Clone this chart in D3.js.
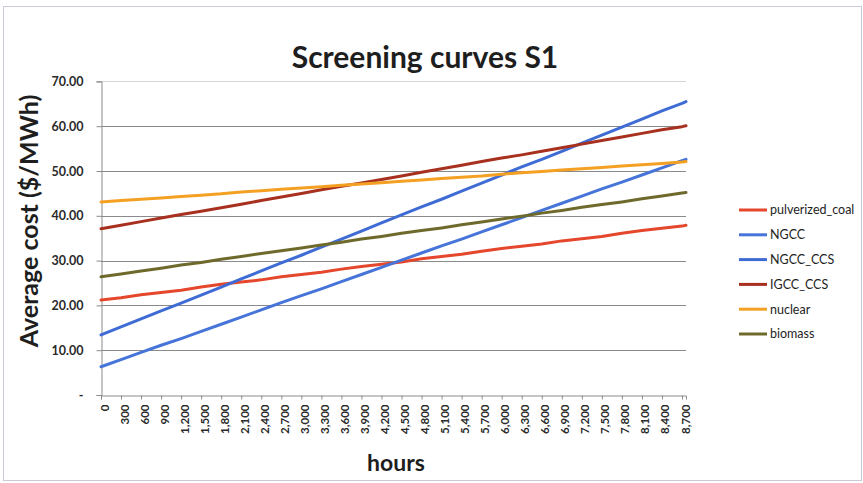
<!DOCTYPE html>
<html>
<head>
<meta charset="utf-8">
<script src="https://cdn.jsdelivr.net/npm/d3@7/dist/d3.min.js"></script>
<style>
  html, body { margin: 0; padding: 0; background: #fff; }
  svg { display: block; font-family: Lato, "Open Sans", sans-serif; }
</style>
</head>
<body>
<svg id="chart" width="863" height="483"></svg>
<script>
// Operating hours per year (category axis)
const hours = [0, 300, 600, 900, 1200, 1500, 1800, 2100, 2400, 2700, 3000, 3300, 3600, 3900, 4200,
  4500, 4800, 5100, 5400, 5700, 6000, 6300, 6600, 6900, 7200, 7500, 7800, 8100, 8400, 8700, 8760];

// Average cost ($/MWh) by technology
const pulverizedCoal = [21.2, 21.7, 22.4, 22.9, 23.4, 24.1, 24.7, 25.2, 25.7, 26.4, 26.9, 27.4, 28.1, 28.7, 29.2,
  29.7, 30.4, 30.9, 31.4, 32.1, 32.7, 33.2, 33.7, 34.4, 34.9, 35.4, 36.1, 36.7, 37.2, 37.7, 37.9];
const ngcc = [6.3, 7.9, 9.5, 11.1, 12.6, 14.2, 15.8, 17.4, 19.0, 20.6, 22.2, 23.7, 25.3, 26.9, 28.5,
  30.1, 31.7, 33.3, 34.8, 36.4, 38.0, 39.6, 41.2, 42.8, 44.4, 46.0, 47.5, 49.1, 50.7, 52.3, 52.6];
const ngccCcs = [13.4, 15.2, 17.0, 18.8, 20.5, 22.3, 24.1, 25.9, 27.7, 29.5, 31.2, 33.0, 34.8, 36.6, 38.4,
  40.2, 42.0, 43.7, 45.5, 47.3, 49.1, 50.9, 52.6, 54.4, 56.2, 58.0, 59.8, 61.6, 63.4, 65.1, 65.5];
const igccCcs = [37.1, 37.9, 38.7, 39.5, 40.3, 41.0, 41.8, 42.6, 43.4, 44.2, 45.0, 45.8, 46.6, 47.3, 48.1,
  48.9, 49.7, 50.5, 51.3, 52.1, 52.9, 53.6, 54.4, 55.2, 56.0, 56.8, 57.6, 58.4, 59.2, 59.9, 60.1];
const nuclear = [43.1, 43.4, 43.7, 44.0, 44.3, 44.6, 44.9, 45.3, 45.6, 45.9, 46.2, 46.5, 46.8, 47.1, 47.4,
  47.7, 48.0, 48.3, 48.6, 48.9, 49.3, 49.6, 49.9, 50.2, 50.5, 50.8, 51.1, 51.4, 51.7, 52.0, 52.1];
const biomass = [26.4, 27.0, 27.7, 28.3, 29.0, 29.6, 30.3, 30.9, 31.6, 32.2, 32.8, 33.5, 34.1, 34.8, 35.4,
  36.1, 36.7, 37.3, 38.0, 38.6, 39.3, 39.9, 40.6, 41.2, 41.9, 42.5, 43.1, 43.8, 44.4, 45.1, 45.2];

const seriesNames = ["pulverized_coal", "NGCC", "NGCC_CCS", "IGCC_CCS", "nuclear", "biomass"];
const seriesValues = [pulverizedCoal, ngcc, ngccCcs, igccCcs, nuclear, biomass];
const seriesColors = ["#e5472c", "#4674d8", "#3f6cd4", "#a8301f", "#f3a023", "#6e6a2c"];

const yTicks = [0, 10, 20, 30, 40, 50, 60, 70];
const xTickHours = [0, 300, 600, 900, 1200, 1500, 1800, 2100, 2400, 2700, 3000, 3300, 3600, 3900, 4200,
  4500, 4800, 5100, 5400, 5700, 6000, 6300, 6600, 6900, 7200, 7500, 7800, 8100, 8400, 8700];

const svg = d3.select("#chart");
const W = 863, H = 483;
const plot = { left: 101, right: 686, top: 81.4, bottom: 395 };

// Outer chart frame
svg.append("rect").attr("x", 3.5).attr("y", 6.5).attr("width", W - 5).attr("height", H - 9)
  .attr("fill", "#fff").attr("stroke", "#c9cbd8").attr("stroke-width", 1);

const x = d3.scaleLinear().domain([0, 8760]).range([plot.left, plot.right]);
const y = d3.scaleLinear().domain([0, 70]).range([plot.bottom, plot.top]);

// Title
svg.append("text").attr("x", 425).attr("y", 68).attr("text-anchor", "middle")
  .attr("font-size", 30).attr("font-weight", 700).attr("fill", "#1e1e1e")
  .text("Screening curves S1");

// Horizontal gridlines
svg.append("g").selectAll("line").data(yTicks.filter(d => d > 0)).join("line")
  .attr("x1", plot.left).attr("x2", plot.right)
  .attr("y1", d => Math.round(y(d)) + 0.5).attr("y2", d => Math.round(y(d)) + 0.5)
  .attr("stroke", d => d === 70 ? "#d6d6d6" : "#8a8a8a")
  .attr("stroke-width", 1);

// Y axis
const yAxis = d3.axisLeft(y).tickValues(yTicks).tickSize(5).tickPadding(13)
  .tickFormat(d => d === 0 ? "-  " : d3.format(".2f")(d));
const gy = svg.append("g").attr("transform", `translate(${plot.left + 0.5},0)`).call(yAxis);
gy.select(".domain").attr("stroke", "#8a8a8a");
gy.selectAll(".tick line").attr("stroke", "#8a8a8a");
gy.selectAll(".tick text").attr("font-size", 12.5).attr("font-weight", 700)
  .attr("fill", "#2a2a2a").attr("font-family", "Lato, sans-serif");

// X axis
const xAxis = d3.axisBottom(x).tickValues(xTickHours).tickSize(4).tickPadding(4)
  .tickFormat(d3.format(",d"));
const gx = svg.append("g").attr("transform", `translate(0,${plot.bottom + 0.5})`).call(xAxis);
gx.select(".domain").attr("stroke", "#8a8a8a");
gx.selectAll(".tick line").attr("stroke", "#8a8a8a");
gx.selectAll(".tick text")
  .attr("font-size", 11.5).attr("font-weight", 700).attr("fill", "#2a2a2a")
  .attr("font-family", "Lato, sans-serif")
  .attr("text-anchor", "end").attr("dy", "0.35em")
  .attr("transform", "translate(3,9) rotate(-90)")
  .attr("x", 0).attr("y", 0);

// Axis titles
svg.append("text").attr("transform", "translate(38,221) rotate(-90)")
  .attr("text-anchor", "middle").attr("font-size", 25).attr("font-weight", 700)
  .attr("fill", "#1e1e1e").text("Average cost ($/MWh)");
svg.append("text").attr("x", 396).attr("y", 471).attr("text-anchor", "middle")
  .attr("font-size", 23).attr("font-weight", 700).attr("fill", "#1e1e1e").text("hours");

// Series lines
const line = d3.line().x((d, i) => x(hours[i])).y(d => y(d));
svg.append("g").selectAll("path").data(seriesValues).join("path")
  .attr("d", d => line(d))
  .attr("fill", "none")
  .attr("stroke", (d, i) => seriesColors[i])
  .attr("stroke-width", 3)
  .attr("stroke-linejoin", "round")
  .attr("stroke-linecap", "round");

// Legend
const legend = svg.append("g").selectAll("g").data(seriesNames).join("g")
  .attr("transform", (d, i) => `translate(739,${210 + i * 24.8})`);
legend.append("line").attr("x1", 0).attr("x2", 28).attr("y1", 0).attr("y2", 0)
  .attr("stroke", (d, i) => seriesColors[i]).attr("stroke-width", 3);
legend.append("text").attr("x", 31).attr("y", 0).attr("dy", "0.35em")
  .attr("font-size", 12.5).attr("fill", "#1e1e1e").text(d => d);
</script>
</body>
</html>
